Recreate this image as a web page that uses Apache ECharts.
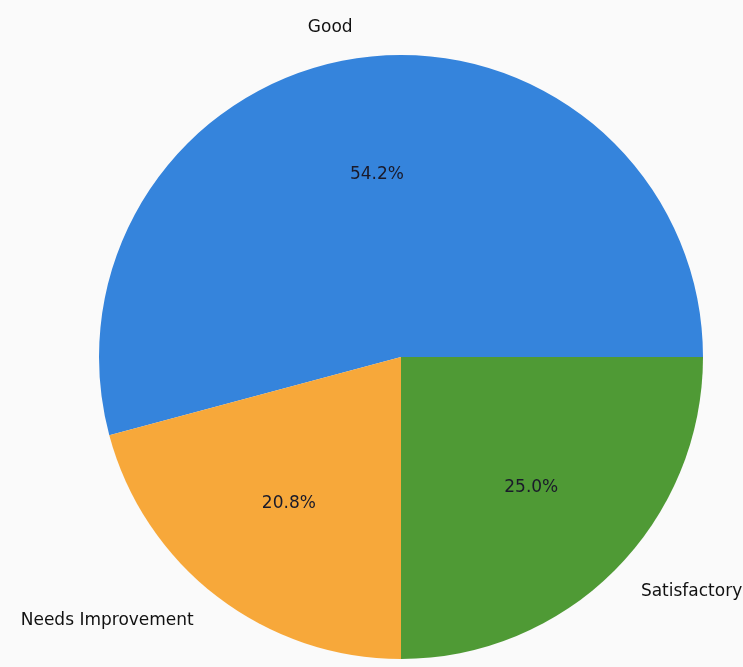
<!DOCTYPE html>
<html style="height: 100%">
    <head>
        <meta charset="utf-8">
    </head>
    <body style="height: 100%; margin: 0">
        <div id="container" style="height: 100%"></div>

        <script type="text/javascript" src="https://cdn.jsdelivr.net/npm/echarts@6/dist/echarts.min.js"></script>
        <script type="text/javascript">
var categories = ['Good', 'Needs Improvement', 'Satisfactory'];
var counts = [13, 5, 6];
var colors = ['#3584dc', '#f7a83a', '#4f9a35'];

var dom = document.getElementById("container");
var myChart = echarts.init(dom);

var R = 302;        // pie radius in px
var center = [401, 357];

var data = categories.map(function (name, i) {
    return {name: name, value: counts[i], itemStyle: {color: colors[i]}};
});

var option = {
    backgroundColor: '#fafafa',
    animation: false,
    series: [
        {
            // the pie itself with the category labels outside (1.1 x radius)
            type: 'pie',
            center: center,
            radius: [0, R],
            startAngle: 0,
            clockwise: false,
            avoidLabelOverlap: false,
            silent: true,
            label: {
                show: true,
                position: 'outside',
                color: '#111',
                fontFamily: 'DejaVu Sans',
                fontSize: 17
            },
            labelLine: {
                show: false,
                length: R * 0.1,
                length2: 0
            },
            data: data
        },
        {
            // invisible ring, its inside labels land at 0.6 x radius
            type: 'pie',
            center: center,
            radius: [0, R * 1.2],
            startAngle: 0,
            clockwise: false,
            silent: true,
            itemStyle: {color: 'transparent'},
            label: {
                show: true,
                position: 'inside',
                color: '#1a1a2a',
                fontFamily: 'DejaVu Sans',
                fontSize: 17,
                formatter: function (p) {
                    return p.percent.toFixed(1) + '%';
                }
            },
            labelLine: {show: false},
            data: categories.map(function (name, i) {
                return {name: name, value: counts[i]};
            })
        }
    ]
};

myChart.setOption(option);
        </script>
    </body>
</html>
